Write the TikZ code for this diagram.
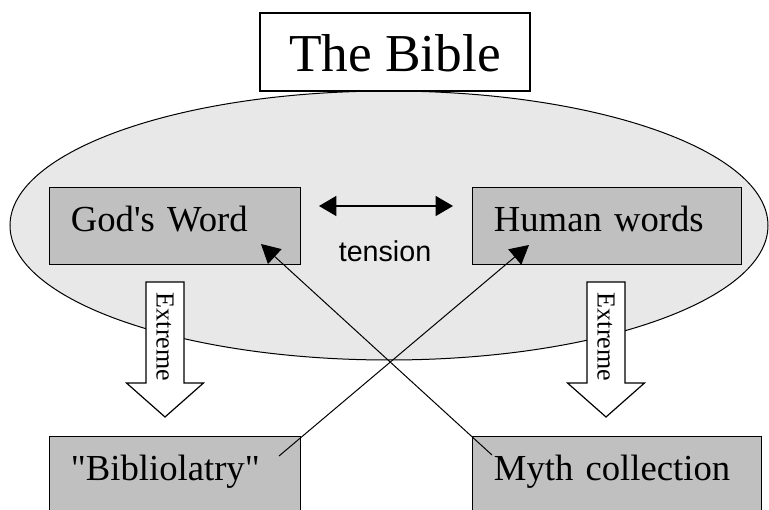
\documentclass[tikz,border=0pt]{standalone}
\usepackage{fontspec}
\setmainfont{Liberation Serif}
\newfontfamily\arialfont{Liberation Sans}
\usepackage{color}
\usetikzlibrary{arrows.meta}

\definecolor{boxgray}{HTML}{C0C0C0}
\definecolor{ovalgray}{HTML}{E8E8E8}

\tikzset{
  wordbox/.style={draw, line width=0.9pt, fill=boxgray, anchor=north west,
    inner xsep=16pt, inner ysep=0pt, minimum height=57.75pt,
    text height=18.75pt, text depth=10.5pt, align=left,
    font=\fontsize{27.5}{30}\selectfont},
  link/.style={line width=0.75pt, -{Triangle[length=14pt,width=15pt]}},
}

\begin{document}
\begin{tikzpicture}[x=0.75pt,y=0.75pt,yscale=-1]
\useasboundingbox (0,0) rectangle (769,510);
\clip (0,0) rectangle (769,510);

%Shape: Ellipse
\draw [line width=0.75pt, fill=ovalgray] (389,225.5) ellipse [x radius=379, y radius=134.5];

% Title Node
\node (bible) [draw, line width=0.9pt, fill=white, inner sep=0pt, minimum width=202.5pt, minimum height=58.5pt,
  text height=30pt, text depth=0pt, font=\fontsize{40}{44}\selectfont] at (395,52) {The Bible};

% Box Nodes
\node (god) [wordbox, text width=156.25pt] at (49,187) {God\textquotesingle s Word};
\node (human) [wordbox, text width=169.75pt] at (472,187) {Human words};
\node (biblio) [wordbox, text width=156.25pt] at (49,436) {\textquotedbl Bibliolatry\textquotedbl};
\node (myth) [wordbox, text width=184.75pt] at (472,436) {Myth collection};

%Shape: Block Arrows
\foreach \cx/\nm in {165/extL, 606/extR} {
  \draw [line width=0.9pt, fill=white] (\cx-19,282) -- (\cx+19,282) -- (\cx+19,383) -- (\cx+38.5,383)
    -- (\cx,417) -- (\cx-38.5,383) -- (\cx-19,383) -- cycle ;
  \node (\nm) [rotate=-90, inner sep=0pt, font=\fontsize{19.5}{22}\selectfont] at (\cx,337) {Extreme};
}

% Tension
\coordinate (tl) at (319,206);
\coordinate (tr) at (453,206);
\draw [line width=0.9pt, {Triangle[length=13pt,width=15pt]}-{Triangle[length=13pt,width=15pt]}] (tl) -- (tr) ;
\node (tension) [anchor=base, font=\arialfont\fontsize{21.5}{24}\selectfont] at (385,262) {tension};

%Straight Lines
\coordinate (godtip) at (261,244);
\coordinate (humantip) at (529,245);
\coordinate (mythstart) at (492,455);
\coordinate (bibliostart) at (279,456);
\draw [link] (mythstart) -- (godtip) ;
\draw [link] (bibliostart) -- (humantip) ;

\end{tikzpicture}
\end{document}
